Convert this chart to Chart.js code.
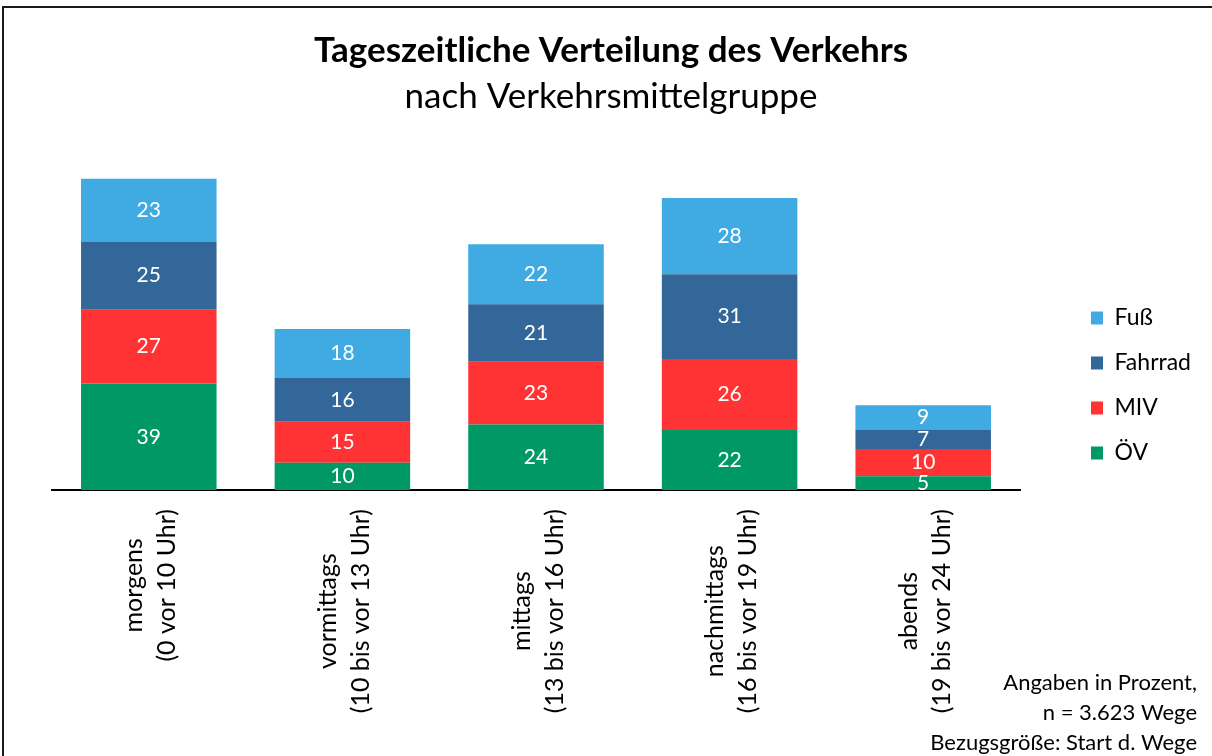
<!DOCTYPE html>
<html>
<head>
<meta charset="utf-8">
<script src="https://cdn.jsdelivr.net/npm/chart.js@4/dist/chart.umd.min.js"></script>
<style>
html,body{margin:0;padding:0;background:#fff;overflow:hidden;}
#wrap{position:relative;width:1212px;height:756px;overflow:hidden;background:#fff;}
#frame{position:absolute;left:2px;top:6px;width:1300px;height:900px;border:2px solid #1a1a1a;box-sizing:border-box;pointer-events:none;}
canvas{position:absolute;left:0;top:0;}
</style>
</head>
<body>
<div id="wrap"><canvas id="c" width="1212" height="756"></canvas><div id="frame"></div></div>
<script>
// ---- data ----
const categoryLabels = [
  ['morgens', '(0 vor 10 Uhr)'],
  ['vormittags', '(10 bis vor 13 Uhr)'],
  ['mittags', '(13 bis vor 16 Uhr)'],
  ['nachmittags', '(16 bis vor 19 Uhr)'],
  ['abends', '(19 bis vor 24 Uhr)']
];
const seriesNames = ['ÖV', 'MIV', 'Fahrrad', 'Fuß'];
const oevValues     = [39, 10, 24, 22, 5];
const mivValues     = [27, 15, 23, 26, 10];
const fahrradValues = [25, 16, 21, 31, 7];
const fussValues    = [23, 18, 22, 28, 9];
const seriesColors  = ['#009966', '#FF3333', '#336699', '#3FABE2'];
const titleText = 'Tageszeitliche Verteilung des Verkehrs';
const subtitleText = 'nach Verkehrsmittelgruppe';
const footnoteLines = ['Angaben in Prozent,', 'n = 3.623 Wege', 'Bezugsgröße: Start d. Wege'];

const FONT = 'Lato, "Open Sans", sans-serif';

const seriesValues = [oevValues, mivValues, fahrradValues, fussValues];

const valueLabels = {
  id: 'valueLabels',
  afterDraw(chart) {
    const ctx = chart.ctx;
    ctx.save();
    ctx.font = '21px ' + FONT;
    ctx.fillStyle = '#ffffff';
    ctx.textAlign = 'center';
    ctx.textBaseline = 'middle';
    chart.data.datasets.forEach((ds, i) => {
      const meta = chart.getDatasetMeta(i);
      meta.data.forEach((bar, j) => {
        ctx.fillText(String(ds.data[j]), bar.x, (bar.y + bar.base) / 2);
      });
    });
    ctx.restore();
  }
};

const categoryText = {
  id: 'categoryText',
  afterDraw(chart) {
    const ctx = chart.ctx;
    const xs = chart.scales.x;
    ctx.save();
    ctx.font = '25px ' + FONT;
    ctx.fillStyle = '#000';
    ctx.textAlign = 'center';
    ctx.textBaseline = 'middle';
    const lineGap = 33;
    const topY = xs.top + 19;
    categoryLabels.forEach((lines, i) => {
      const x = xs.getPixelForValue(i);
      const maxW = Math.max(...lines.map(l => ctx.measureText(l).width));
      const cy = topY + maxW / 2;
      lines.forEach((l, k) => {
        ctx.save();
        ctx.translate(x + 2 + (k - (lines.length - 1) / 2) * lineGap, cy);
        ctx.rotate(-Math.PI / 2);
        ctx.fillText(l, 0, 0);
        ctx.restore();
      });
    });
    // footnote
    ctx.font = '22px ' + FONT;
    ctx.textAlign = 'right';
    footnoteLines.forEach((l, k) => {
      ctx.fillText(l, 1197, 683 + k * 30);
    });
    ctx.restore();
  }
};

new Chart(document.getElementById('c'), {
  type: 'bar',
  data: {
    labels: categoryLabels,
    datasets: seriesNames.map((name, i) => ({
      label: name,
      data: seriesValues[i],
      backgroundColor: seriesColors[i],
      borderWidth: 0,
      barPercentage: 0.7,
      categoryPercentage: 1.0
    }))
  },
  options: {
    responsive: false,
    devicePixelRatio: 1,
    animation: false,
    layout: { padding: { left: 21, right: 11, top: 15, bottom: 0 } },
    scales: {
      x: {
        stacked: true,
        position: 'bottom',
        z: 1,
        grid: { display: false, drawTicks: false },
        border: { display: true, color: '#000', width: 2 },
        ticks: { display: false },
        afterFit(s) { s.height = 266; }
      },
      y: {
        stacked: true,
        position: 'left',
        min: 0,
        max: 120,
        grid: { display: false, drawTicks: false },
        border: { display: false },
        ticks: { display: false },
        afterFit(s) { s.width = 31; }
      },
      spacer: {
        type: 'linear',
        position: 'right',
        grid: { display: false, drawTicks: false },
        border: { display: false },
        ticks: { display: false },
        afterFit(s) { s.width = Math.max(0, s.chart.width - 11 - s.chart.legend.width - 1020); }
      }
    },
    plugins: {
      title: {
        display: true,
        text: titleText,
        color: '#000',
        font: { family: FONT, size: 35, weight: 'bold' },
        padding: { top: 15, bottom: 0 }
      },
      subtitle: {
        display: true,
        text: subtitleText,
        color: '#000',
        font: { family: FONT, size: 35, weight: 'normal' },
        padding: { top: 4, bottom: 44.4 }
      },
      legend: {
        position: 'right',
        align: 'center',
        reverse: true,
        labels: {
          boxWidth: 12,
          boxHeight: 13,
          padding: 22,
          color: '#000',
          font: { family: FONT, size: 23 }
        }
      },
      tooltip: { enabled: false }
    }
  },
  plugins: [valueLabels, categoryText]
});
</script>
</body>
</html>
